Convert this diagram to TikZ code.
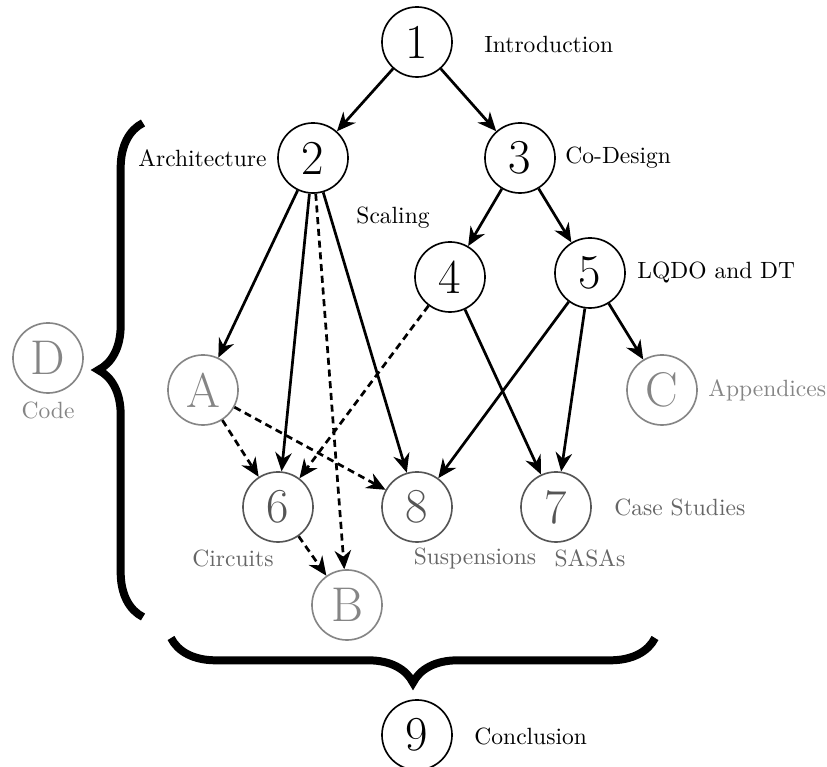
\documentclass[tikz,border=0pt]{standalone}
\usetikzlibrary{arrows.meta,decorations.pathreplacing}
\definecolor{lightg}{HTML}{858585}
\definecolor{darkg}{HTML}{555555}
\definecolor{labg}{HTML}{666666}
\begin{document}
\begin{tikzpicture}[x=0.4255pt,y=-0.4255pt,
  chap/.style={circle,draw,line width=0.7pt,minimum size=29.8pt,inner sep=0pt,font=\huge},
  core/.style={chap,draw=black,text=black},
  part/.style={chap,draw=darkg,text=darkg},
  extra/.style={chap,draw=lightg,text=lightg},
  lab/.style={font=\normalsize,inner sep=0pt},
  link/.style={line width=1.15pt,-{Stealth[length=8pt,width=7pt,inset=2.6pt]}},
  dlink/.style={link,dash pattern=on 3pt off 2pt},
  bracepath/.style={line width=3.4pt,decorate,decoration={brace,amplitude=19pt}}]
\useasboundingbox (0,0) rectangle (827,767);

% chapter nodes
\node[core] (n1) at (417,42) {1};
\node[core] (n2) at (313,158) {2};
\node[core] (n3) at (520,158) {3};
\node[core] (n4) at (450,277) {4};
\node[core] (n5) at (590,273) {5};
\node[part] (n6) at (278,507) {6};
\node[part] (n8) at (417,507) {8};
\node[part] (n7) at (556,507) {7};
\node[core] (n9) at (417,735) {9};
\node[extra] (nA) at (203,390) {A};
\node[extra] (nB) at (347,605) {B};
\node[extra] (nC) at (662,390) {C};
\node[extra] (nD) at (48,358) {D};

% chapter titles
\node[lab,anchor=west] (t1) at (484,44) {Introduction};
\node[lab,anchor=east] (t2) at (267,158) {Architecture};
\node[lab,anchor=west] (t3) at (565,158) {Co-Design};
\node[lab] (t4) at (393,218) {Scaling};
\node[lab,anchor=west] (t5) at (637,273) {LQDO and DT};
\node[lab,anchor=west,text=lightg] (tC) at (708,390) {Appendices};
\node[lab,anchor=west,text=labg] (t7) at (614,507) {Case Studies};
\node[lab,text=labg] (t6) at (233,558) {Circuits};
\node[lab,text=labg] (t8) at (475,558) {Suspensions};
\node[lab,text=labg] (tS) at (590,558) {SASAs};
\node[lab,text=lightg] (tD) at (48,410) {Code};
\node[lab,anchor=west] (t9) at (474,736) {Conclusion};

% dependencies
\draw[link] (n1) -- (n2);
\draw[link] (n1) -- (n3);
\draw[link] (n2) -- (nA);
\draw[link] (n2) -- (n6);
\draw[dlink] (n2) -- (nB);
\draw[link] (n2) -- (n8);
\draw[link] (n3) -- (n4);
\draw[link] (n3) -- (n5);
\draw[dlink] (n4) -- (n6);
\draw[link] (n4) -- (n7);
\draw[link] (n5) -- (n8);
\draw[link] (n5) -- (n7);
\draw[link] (n5) -- (nC);
\draw[dlink] (nA) -- (n6);
\draw[dlink] (nA) -- (n8);
\draw[dlink] (n6) -- (nB);

% grouping braces
\coordinate (lb1) at (143,617);
\coordinate (lb2) at (143,123);
\coordinate (bb1) at (655,638);
\coordinate (bb2) at (171,638);
\draw[bracepath] (lb1) -- (lb2);
\draw[bracepath] (bb1) -- (bb2);
\end{tikzpicture}
\end{document}
